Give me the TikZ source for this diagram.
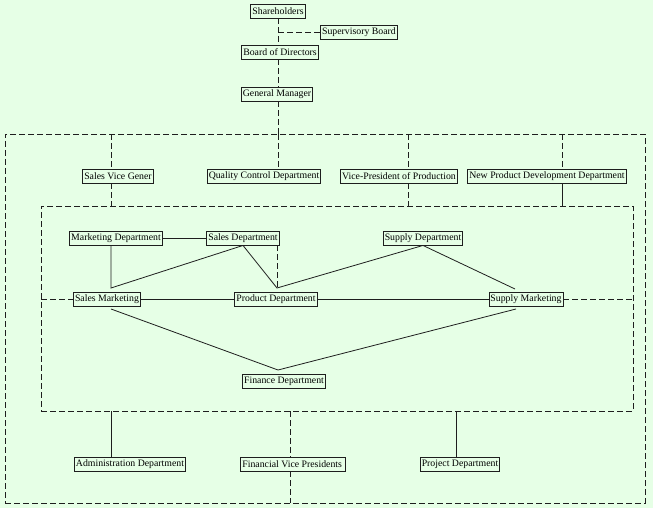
\documentclass[tikz,border=0pt]{standalone}
\usepackage{fontspec}
\setmainfont{Liberation Serif}
\usepackage{xcolor}
\usetikzlibrary{positioning}
\definecolor{paper}{RGB}{230,255,230}
\definecolor{ink}{RGB}{30,30,30}

\begin{document}
\begin{tikzpicture}[x=1pt, y=-1pt, font=\fontsize{9.8}{11}\selectfont,
	dept/.style={draw=ink, line width=0.9pt, inner sep=1.5pt, minimum height=14pt},
	frame/.style={draw=ink, dashed, dash pattern=on 6pt off 3pt, line width=0.8pt, inner sep=0pt, outer sep=0pt},
	dashline/.style={draw=ink, dashed, dash pattern=on 6pt off 3pt, line width=0.8pt},
	link/.style={draw=ink, line width=0.8pt}]
		\fill[paper] (0,0) rectangle (653,508);
		\useasboundingbox (0,0) rectangle (653,508);
		% frames
		\node[frame, minimum width=640pt, minimum height=369pt] (outer) at (325,318.5) {};
		\node[frame, minimum width=592pt, minimum height=205pt] (inner) at (337,308.5) {};
		% top of the chart
		\node[dept] (share) at (278,11) {Shareholders};
		\node[dept] (super) at (359,32) {Supervisory Board};
		\node[dept] (board) at (280,52) {Board of Directors};
		\node[dept] (gm) at (277,94) {General Manager};
		\coordinate (spine) at (278,0);
		\draw[dashline] (share.south) -- (spine |- board.north);
		\draw[dashline] (spine |- super.west) -- (super.west);
		\draw[dashline] (spine |- board.south) -- (spine |- gm.north);
		\draw[dashline] (spine |- gm.south) -- (spine |- outer.north);
		% first row
		\node[dept] (salesvice) at (118,176) {Sales Vice Gener};
		\node[dept] (quality) at (264,176) {Quality Control Department};
		\node[dept] (vpprod) at (399,176) {Vice-President of Production};
		\node[dept] (newprod) at (547,176) {New Product Development Department};
		\coordinate (xa) at (111,0);
		\coordinate (xb) at (408,0);
		\coordinate (xc) at (562,0);
		\draw[dashline] (xa |- outer.north) -- (xa |- salesvice.north);
		\draw[dashline] (xa |- salesvice.south) -- (xa |- inner.north);
		\draw[dashline] (spine |- outer.north) -- (spine |- quality.north);
		\draw[dashline] (xb |- outer.north) -- (xb |- vpprod.north);
		\draw[dashline] (xb |- vpprod.south) -- (xb |- inner.north);
		\draw[dashline] (xc |- outer.north) -- (xc |- newprod.north);
		\draw[link] (xc |- newprod.south) -- (xc |- inner.north);
		% inside the inner frame
		\node[dept] (marketing) at (116,238) {Marketing Department};
		\node[dept] (sales) at (243,238) {Sales Department};
		\node[dept] (supply) at (423,238) {Supply Department};
		\node[dept] (salesmkt) at (107,299) {Sales Marketing};
		\node[dept] (product) at (276,299) {Product Department};
		\node[dept] (supplymkt) at (526,299) {Supply Marketing};
		\node[dept] (finance) at (284,381) {Finance Department};
		\coordinate (za) at (111,288);
		\coordinate (zb) at (277,288);
		\coordinate (zc) at (515,289);
		\coordinate (va) at (111,309);
		\coordinate (vb) at (278,370);
		\coordinate (vc) at (516,309);
		\draw[link] (marketing) -- (sales);
		\draw[link] (xa |- marketing.south) -- (za) -- (sales.south) -- (zb) -- (supply.south) -- (zc);
		\draw[dashline] (zb |- sales.south) -- (zb);
		\draw[dashline] (inner.west |- salesmkt) -- (salesmkt.west);
		\draw[link] (salesmkt) -- (product) -- (supplymkt);
		\draw[dashline] (supplymkt.east) -- (inner.east |- supplymkt);
		\draw[link] (va) -- (vb) -- (vc);
		% bottom row
		\node[dept] (admin) at (130,464) {Administration Department};
		\node[dept] (finvice) at (293,464) {Financial Vice Presidents\,};
		\node[dept] (project) at (460,464) {Project Department};
		\coordinate (xd) at (290,0);
		\coordinate (xe) at (456,0);
		\draw[link] (xa |- inner.south) -- (xa |- admin.north);
		\draw[dashline] (xd |- inner.south) -- (xd |- finvice.north);
		\draw[dashline] (xd |- finvice.south) -- (xd |- outer.south);
		\draw[link] (xe |- inner.south) -- (xe |- project.north);
	\end{tikzpicture}
\end{document}
